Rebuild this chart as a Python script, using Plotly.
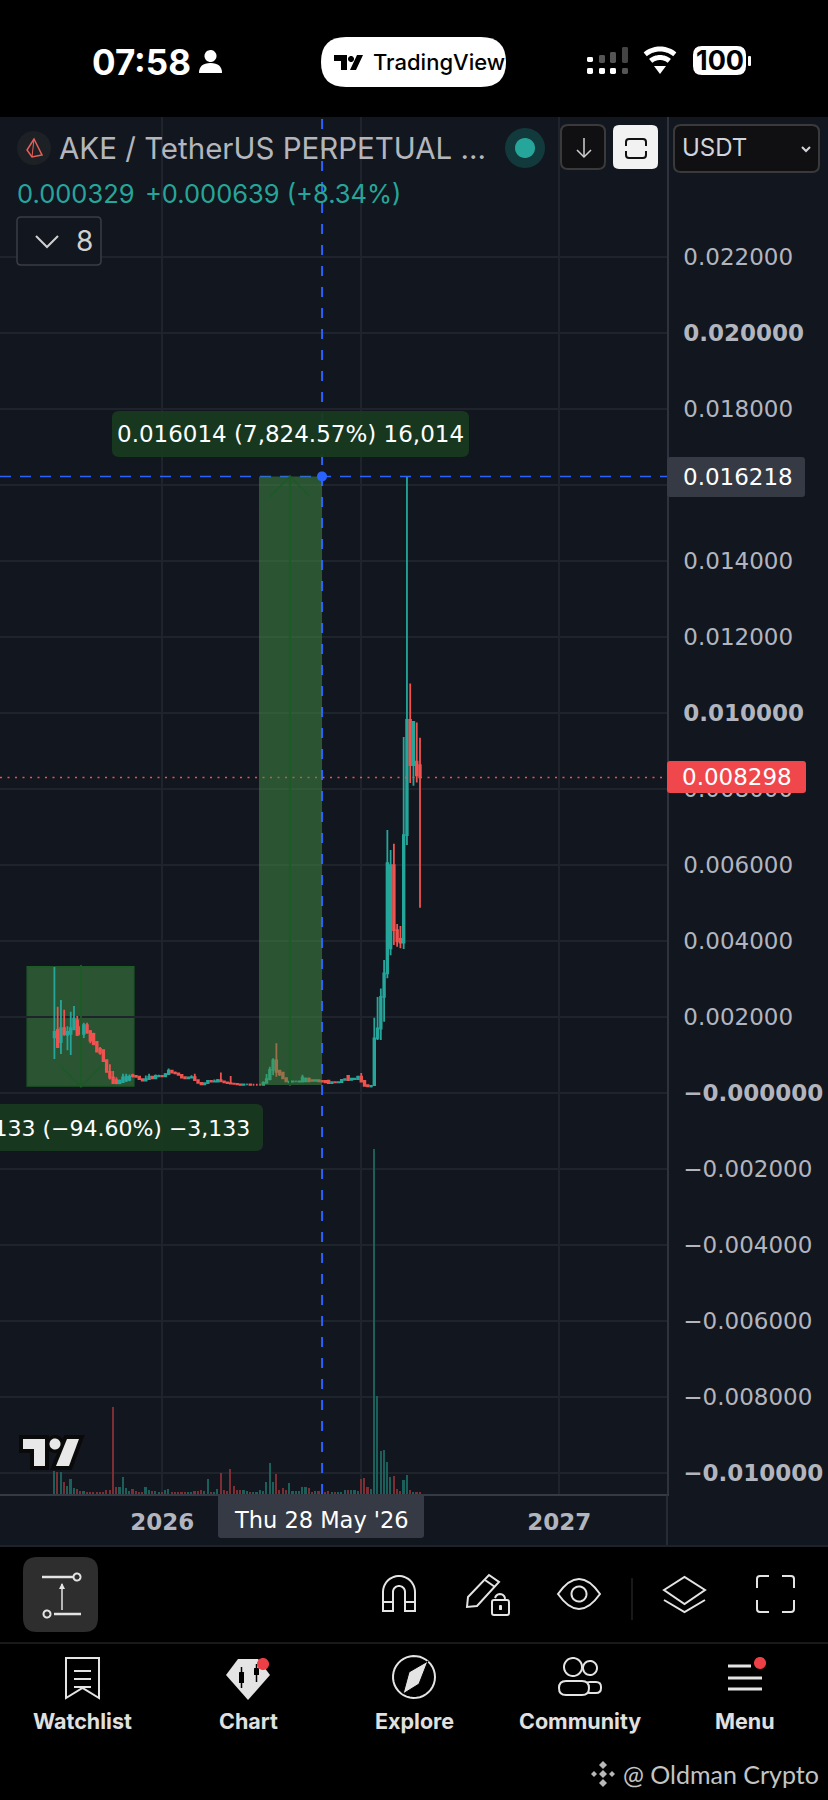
import numpy as np
import pandas as pd
import plotly.graph_objects as go

W, H = 828, 1800
FONT = "Inter"
AXIS_FONT = "DejaVu Sans"
PANEL = "#12161f"
GRID = "#1f232c"
TEAL = "#26a69a"
RED = "#ef5350"
BLUE = "#2962ff"

# 3 day candles
FIRST_CANDLE = "2025-09-24"
OPEN = [.00146, .00165, .00133, .00170, .00152, .00155, .00167, .00190, .00172, .00155,
        .00178, .00162, .00155, .00134, .00115, .00112, .00086, .00055, .00040, .00033,
        .00025, .00028, .00032, .00034, .00046, .00044, .00042, .00036, .00032, .00036,
        .00042, .00038, .00043, .00044, .00043, .00049, .00058, .00053, .00051, .00047,
        .00041, .00038, .00040, .00041, .00033, .00026, .00022, .00025, .00031, .00029,
        .00029, .00033, .00030, .00027, .00025, .00024, .00023, .00022, .00021, .00022,
        .00022, .00021, .00021, .00021, .00021, .00026, .00036, .00060, .00085, .00058,
        .00053, .00038, .00027, .00029, .00030, .00029, .00029, .00030, .00037, .00033,
        .00031, .00033, .00031, .00031, .00032, .00025, .00028, .00027, .00028, .00034,
        .00044, .00034, .00036, .00036, .00042, .00031, .00020, .00017, .00020, .00143,
        .00169, .00252, .00314, .00380, .00599, .00428, .00405, .00395, .00678, .00981,
        .00862, .00871, .00862]
HIGH = [.00331, .00226, .00244, .00218, .00175, .00213, .00228, .00202, .00176, .00184,
        .00184, .00165, .00158, .00134, .00120, .00112, .00086, .00075, .00057, .00041,
        .00035, .00050, .00050, .00048, .00050, .00046, .00043, .00037, .00045, .00050,
        .00044, .00048, .00047, .00046, .00052, .00064, .00058, .00056, .00053, .00049,
        .00043, .00042, .00046, .00050, .00034, .00028, .00027, .00033, .00033, .00035,
        .00036, .00053, .00032, .00029, .00044, .00026, .00024, .00023, .00024, .00023,
        .00023, .00022, .00022, .00023, .00030, .00049, .00068, .00091, .00130, .00060,
        .00053, .00040, .00030, .00032, .00031, .00032, .00047, .00040, .00040, .00034,
        .00034, .00034, .00032, .00032, .00032, .00029, .00029, .00030, .00035, .00037,
        .00045, .00038, .00038, .00044, .00052, .00033, .00021, .00019, .00197, .00252,
        .00274, .00349, .00691, .00639, .00655, .00444, .00439, .00936, .016218, .01077,
        .00976, .00974, .00934]
LOW = [.00089, .00118, .00102, .00150, .00112, .00099, .00165, .00149, .00150, .00144,
       .00155, .00130, .00125, .00108, .00100, .00083, .00055, .00035, .00025, .00022,
       .00022, .00026, .00028, .00030, .00040, .00040, .00034, .00030, .00031, .00034,
       .00036, .00037, .00041, .00042, .00042, .00047, .00052, .00050, .00046, .00039,
       .00037, .00037, .00039, .00032, .00025, .00021, .00021, .00024, .00028, .00027,
       .00028, .00029, .00026, .00024, .00023, .00022, .00021, .00020, .00020, .00020,
       .00020, .00020, .00020, .00020, .00021, .00025, .00033, .00046, .00042, .00044,
       .00036, .00028, .00025, .00027, .00028, .00027, .00028, .00030, .00029, .00030,
       .00030, .00029, .00028, .00026, .00023, .00024, .00026, .00026, .00027, .00032,
       .00032, .00033, .00034, .00035, .00028, .00018, .00017, .00014, .00018, .00139,
       .00139, .00187, .00301, .00362, .00389, .00384, .00380, .00378, .00652, .00815,
       .00808, .00816, .00487]
CLOSE = [.00160, .00120, .00170, .00154, .00160, .00170, .00195, .00152, .00155, .00178,
         .00158, .00137, .00128, .00108, .00105, .00083, .00055, .00040, .00025, .00025,
         .00032, .00040, .00042, .00042, .00044, .00042, .00036, .00032, .00036, .00042,
         .00038, .00044, .00044, .00043, .00049, .00058, .00053, .00051, .00047, .00040,
         .00038, .00040, .00041, .00033, .00026, .00022, .00025, .00031, .00029, .00030,
         .00033, .00030, .00027, .00025, .00024, .00023, .00022, .00021, .00022, .00022,
         .00021, .00021, .00021, .00021, .00026, .00036, .00060, .00085, .00055, .00048,
         .00038, .00030, .00029, .00030, .00030, .00030, .00040, .00037, .00030, .00031,
         .00033, .00030, .00029, .00027, .00025, .00028, .00027, .00028, .00034, .00036,
         .00033, .00037, .00037, .00042, .00029, .00018, .00017, .00018, .00143, .00169,
         .00252, .00314, .00604, .00599, .00428, .00398, .00395, .00678, .00981, .00862,
         .00976, .00835, .008298]
VOLUME = [68, 65, 66, 35, 25, 44, 18, 15, 8, 8, 5, 5, 5, 5, 5, 5, 13, 13, 260, 22,
          22, 50, 18, 8, 15, 8, 7, 7, 22, 13, 10, 10, 7, 5, 12, 15, 7, 5, 5, 5,
          5, 5, 5, 8, 10, 12, 8, 46, 6, 7, 16, 63, 13, 8, 75, 25, 12, 13, 12, 8,
          7, 6, 6, 12, 10, 35, 92, 37, 60, 13, 18, 12, 32, 10, 8, 8, 20, 22, 18, 5,
          10, 10, 10, 5, 10, 7, 6, 6, 6, 12, 12, 12, 12, 10, 45, 48, 22, 15, 1035, 293,
          130, 133, 97, 50, 55, 15, 10, 42, 58, 13, 7, 7, 7]

PRICE_TICKS = [-.010, -.008, -.006, -.004, -.002, 0, .002, .004, .006, .008, .010,
               .012, .014, .016, .018, .020, .022]
PRICE_LABELS = ["<b>−0.010000</b>", "−0.008000", "−0.006000", "−0.004000", "−0.002000",
                "<b>−0.000000</b>", "0.002000", "0.004000", "0.006000", "0.008000",
                "<b>0.010000</b>", "0.012000", "0.014000", "0.016000", "0.018000",
                "<b>0.020000</b>", "0.022000"]
TIME_TICKS = ["2026-01-01", "2026-07-03", "2027-01-01"]
TIME_LABELS = ["<b>2026</b>", "", "<b>2027</b>"]

LAST_PRICE = 0.008298
CROSS_PRICE = 0.016218
CROSS_DATE = "2026-05-28"
DROP_BOX = dict(x0="2025-08-30", x1="2025-12-06", y0=0.000179, y1=0.003312)
RISE_BOX = dict(x0="2026-03-31", x1=CROSS_DATE, y0=0.000204, y1=CROSS_PRICE)

dates = pd.date_range(FIRST_CANDLE, periods=len(OPEN), freq="3D")
vol_colors = ["#1a5f59" if c >= o else "#7c2e33" for o, c in zip(OPEN, CLOSE)]

shapes = []
notes = []


def pt(x, y):
    return f"{x / W:.5f},{1 - y / H:.5f}"


def poly(points, fill=None, color=None, width=2, close=False, layer="above"):
    d = "M" + " L".join(pt(x, y) for x, y in points) + (" Z" if close else "")
    raw(d, fill, color, width, layer)


def raw(d, fill=None, color=None, width=2, layer="above"):
    shapes.append(dict(type="path", path=d, xref="paper", yref="paper", layer=layer,
                       fillcolor=fill or "rgba(0,0,0,0)",
                       line=dict(color=color or "rgba(0,0,0,0)", width=width if color else 0)))


def rrect(x0, y0, x1, y1, r, fill=None, color=None, width=1.5, layer="above"):
    d = (f"M{pt(x0 + r, y0)} L{pt(x1 - r, y0)} Q{pt(x1, y0)} {pt(x1, y0 + r)} "
         f"L{pt(x1, y1 - r)} Q{pt(x1, y1)} {pt(x1 - r, y1)} L{pt(x0 + r, y1)} "
         f"Q{pt(x0, y1)} {pt(x0, y1 - r)} L{pt(x0, y0 + r)} Q{pt(x0, y0)} {pt(x0 + r, y0)} Z")
    raw(d, fill, color, width, layer)


def arc(cx, cy, r, a0, a1, n=24):
    a = np.radians(np.linspace(a0, a1, n))
    return list(zip(cx + r * np.cos(a), cy - r * np.sin(a)))


def dot(cx, cy, r, fill=None, color=None, width=2):
    poly(arc(cx, cy, r, 0, 360, 40), fill, color, width, close=True)


def text(x, y, s, size, color="#ffffff", anchor="left", bold=False, family=FONT, weight=None):
    font = dict(family=family, size=size, color=color)
    if weight:
        font["weight"] = weight
    notes.append(dict(x=x / W, y=1 - y / H, xref="paper", yref="paper", showarrow=False,
                      text=f"<b>{s}</b>" if bold else s, xanchor=anchor, yanchor="middle",
                      font=font))


# panel
rrect(0, 117, W, 1546, 0, fill=PANEL, layer="below")

# measure box behind the candles
shapes.append(dict(type="rect", xref="x", yref="y", layer="below", **DROP_BOX,
                   fillcolor="rgba(66,146,70,0.5)", line=dict(color="#1c5a26", width=1.5)))

# crosshair and last price
shapes.append(dict(type="line", xref="x", yref="paper", x0=CROSS_DATE, x1=CROSS_DATE,
                   y0=1 - 1494 / H, y1=1 - 117 / H, line=dict(color=BLUE, width=2, dash="10px,11px")))
shapes.append(dict(type="line", xref="paper", yref="y", x0=0, x1=667 / W, y0=CROSS_PRICE,
                   y1=CROSS_PRICE, line=dict(color=BLUE, width=1.5, dash="11px,9px")))
shapes.append(dict(type="line", xref="paper", yref="y", x0=0, x1=667 / W, y0=LAST_PRICE,
                   y1=LAST_PRICE, line=dict(color=RED, width=1.5, dash="2px,5.5px")))

shapes.append(dict(type="rect", xref="x", yref="y", layer="above", **RISE_BOX,
                   fillcolor="rgba(66,146,70,0.5)", line=dict(width=0)))

# arrows in the measure boxes
ARROW = "#1c5a26"
poly([(81, 965), (81, 1087)], color=ARROW, width=2)
poly([(61, 1066), (81, 1087), (101, 1066)], color=ARROW, width=1.5)
poly([(290, 476), (290, 1086)], color=ARROW, width=2)
poly([(270, 497), (290, 476), (310, 497)], color=ARROW, width=1.5)
dot(322, 476.4, 5, fill=BLUE)

# measure labels
rrect(112, 411, 469, 457, 7, fill="rgba(24,58,32,0.95)")
text(290.5, 434, "0.016014 (7,824.57%) 16,014", 23, anchor="center", family=AXIS_FONT)
rrect(-110, 1104, 263, 1151, 7, fill="rgba(24,58,32,0.95)")
text(251.5, 1128, "−0.003133 (−94.60%) −3,133", 22, anchor="right", family=AXIS_FONT)

# price axis tags
poly([(667, 1494), (667, 1546)], color="#2f333e", width=1.5)
rrect(667, 457, 805, 497, 3, fill="#363a45")
text(738, 476.5, "0.016218", 23, anchor="center", family=AXIS_FONT)
rrect(667, 761, 806, 793, 3, fill="#f0474c")
text(737, 777, "0.008298", 23, anchor="center", family=AXIS_FONT)
rrect(218, 1494, 424, 1538, 3, fill="#363a45")
text(321, 1520, "Thu 28 May '26", 22.5, anchor="center", family=AXIS_FONT)

# watermark logo
LOGO_T = [(23, 1439), (45, 1439), (45, 1466), (34, 1466), (34, 1449), (23, 1449)]
LOGO_S = [(56, 1466), (69, 1466), (79, 1439), (67, 1439)]
poly(LOGO_T, fill="#0a0a0a", color="#0a0a0a", width=8, close=True)
poly(LOGO_S, fill="#0a0a0a", color="#0a0a0a", width=8, close=True)
dot(55, 1444, 9, fill="#0a0a0a")
poly(LOGO_T, fill="#e8e8e8", close=True)
poly(LOGO_S, fill="#e8e8e8", close=True)
dot(55, 1444, 5.5, fill="#e8e8e8")

# status bar
rrect(0, 0, W, 117, 0, fill="#000000", layer="below")
text(90, 62, "07:58", 35, bold=True)
dot(210.5, 56, 6, fill="#ffffff")
raw(f"M{pt(199, 73)} Q{pt(199, 63)} {pt(210.5, 63)} Q{pt(222, 63)} {pt(222, 73)} Z", fill="#ffffff")
rrect(321, 37, 506, 87, 25, fill="#ffffff")
poly([(334, 55), (347, 55), (347, 70), (341, 70), (341, 61), (334, 61)], fill="#000000", close=True)
dot(351, 59, 3, fill="#000000")
poly([(350, 70), (356, 70), (363, 55), (357, 55)], fill="#000000", close=True)
text(371, 62, "TradingView", 22, color="#000000", weight=500)
for x, rows in [(590, [(57, 62, "#fff"), (68, 74, "#fff")]),
                (602, [(55, 63, "#555"), (68, 74, "#fff")]),
                (613, [(52, 63, "#555"), (68, 74, "#fff")]),
                (625, [(47, 63, "#444"), (68, 74, "#555")])]:
    for y0, y1, c in rows:
        rrect(x - 3, y0, x + 3, y1, 1.5, fill=c)
for r in [23, 14.5]:
    poly(arc(660, 72, r, 50, 130), color="#ffffff", width=5)
poly([(660, 74), (654, 66), (666, 66)], fill="#ffffff", close=True)
rrect(693, 46, 746, 75, 9, fill="#ffffff")
rrect(748, 56, 751, 66, 1, fill="#ffffff")
text(719.5, 61, "100", 27, color="#000000", anchor="center", bold=True)

# chart header
dot(34, 148, 17, fill="#1d2024")
poly([(34, 139), (42, 155), (32, 157), (27, 150)], color="#e8605a", width=1.5, close=True)
poly([(34, 139), (32, 157)], color="#e8605a", width=1)
text(57, 148, "AKE / TetherUS PERPETUAL ...", 29.5, color="#b4b6bc")
dot(525, 148, 20, fill="#123a3c")
dot(525, 148, 10, fill=TEAL)
rrect(561, 125, 605, 169, 7, fill="#101012", color="#3a3a3a", width=2)
poly([(584, 138), (584, 157)], color="#d0d0d0", width=1.5)
poly([(577, 150), (584, 157), (591, 150)], color="#d0d0d0", width=1.5)
rrect(613, 125, 658, 169, 6, fill="#f2f2f2")
raw(f"M{pt(626, 146)} L{pt(626, 142)} Q{pt(626, 139)} {pt(629, 139)} L{pt(643, 139)} "
    f"Q{pt(646, 139)} {pt(646, 142)} L{pt(646, 146)}", color="#111111", width=2)
raw(f"M{pt(626, 151)} L{pt(626, 155)} Q{pt(626, 158)} {pt(629, 158)} L{pt(643, 158)} "
    f"Q{pt(646, 158)} {pt(646, 155)} L{pt(646, 151)}", color="#111111", width=2)
rrect(674, 125, 819, 172, 7, fill="#101012", color="#3a3a3a", width=2)
text(680, 148, "USDT", 24, color="#d1d4dc")
poly([(802, 147), (806, 151), (810, 147)], color="#d1d4dc", width=2)
text(15, 193, "0.000329", 25.5, color=TEAL)
text(143, 193, "+0.000639 (+8.34%)", 25.5, color=TEAL)
rrect(17, 217, 101, 265, 4, fill=PANEL, color="#3a3d45", width=1.5)
poly([(36, 236), (47, 247), (58, 236)], color="#d0d0d0", width=2)
text(84, 241, "8", 28, color="#d0d0d0", anchor="center")

# tool row
ICON = "#e4e4e4"
poly([(0, 1546), (W, 1546)], color="#20222a", width=2)
rrect(0, 1547, W, 1800, 0, fill="#000000")
rrect(23, 1557, 98, 1632, 14, fill="#2e2e2e")
poly([(42, 1577), (73, 1577)], color=ICON, width=2.5)
dot(77, 1577, 3.5, color=ICON)
poly([(54, 1614), (81, 1614)], color=ICON, width=2.5)
dot(47, 1614, 3.5, color=ICON)
poly([(62, 1584), (62, 1610)], color=ICON, width=1.5)
poly([(59, 1589), (62, 1583), (65, 1589)], fill=ICON, close=True)

outer = arc(399, 1592, 16, 180, 0)
inner = arc(399, 1592, 6, 0, 180)
poly([(383, 1611)] + outer + [(415, 1611), (405, 1611)] + inner + [(393, 1611)], color=ICON, width=2, close=True)
poly([(383, 1602), (393, 1602)], color=ICON)
poly([(405, 1602), (415, 1602)], color=ICON)
poly([(489, 1575), (499, 1582), (477, 1606), (467, 1607), (468, 1597)], color=ICON, close=True)
poly([(485, 1580), (495, 1587)], color=ICON)
rrect(492, 1600, 509, 1615, 2, fill="#000000", color=ICON, width=2)
poly(arc(500, 1599, 5, 0, 170, 10), color=ICON)
rrect(499, 1605, 502, 1610, 0.5, fill=ICON)
raw(f"M{pt(558, 1594)} Q{pt(579, 1564)} {pt(600, 1594)} Q{pt(579, 1624)} {pt(558, 1594)} Z", color=ICON, width=2)
dot(579, 1594, 7.5, color=ICON)
poly([(632, 1578), (632, 1620)], color="#222222", width=1.5)
poly([(664, 1590), (684.5, 1577), (705, 1590), (684.5, 1604)], color=ICON, close=True)
poly([(664, 1600), (684.5, 1612), (705, 1600)], color=ICON)
for x0, x1, y0, y1 in [(757, 769, 1588, 1576), (794, 782, 1588, 1576),
                       (757, 769, 1600, 1612), (794, 782, 1600, 1612)]:
    raw(f"M{pt(x0, y0)} L{pt(x0, y1 + (3 if y1 < y0 else -3))} Q{pt(x0, y1)} "
        f"{pt(x0 + (3 if x1 > x0 else -3), y1)} L{pt(x1, y1)}", color=ICON, width=2)
poly([(0, 1643), (W, 1643)], color="#222222", width=1.5)

# tab bar
poly([(66, 1658), (99, 1658), (99, 1698), (82.5, 1688), (66, 1698)], color=ICON, close=True)
for y in [1671, 1679, 1687]:
    poly([(74, y), (91, y)], color=ICON)
poly([(226, 1675), (238, 1659), (258, 1659), (270, 1675), (248, 1700)], fill=ICON, close=True)
rrect(239, 1672, 244, 1683, 0.5, fill="#000000")
poly([(241.5, 1667), (241.5, 1688)], color="#000000", width=1.5)
rrect(254, 1668, 259, 1675, 0.5, fill="#000000")
poly([(256.5, 1664), (256.5, 1682)], color="#000000", width=1.5)
dot(263, 1664, 6, fill="#ef3f46")
dot(414, 1677, 21, color=ICON)
poly([(428, 1661), (419, 1684), (403, 1694), (409, 1672)], fill=ICON, color="#000000", width=1, close=True)
dot(573, 1667, 9, color=ICON)
dot(590, 1668, 7, color=ICON)
rrect(585, 1682, 601, 1693, 5, fill="#000000", color=ICON, width=2)
rrect(559, 1681, 589, 1695, 7, fill="#000000", color=ICON, width=2)
poly([(728, 1666), (751, 1666)], color=ICON, width=3)
poly([(728, 1678), (762, 1678)], color=ICON, width=3)
poly([(728, 1689), (762, 1689)], color=ICON, width=3)
dot(760, 1663, 6, fill="#ef3f46")
for x, s in [(82, "Watchlist"), (248, "Chart"), (414, "Explore"), (580, "Community"), (745, "Menu")]:
    text(x, 1721, s, 21.5, color="#e0e0e0", anchor="center", bold=True)

# source mark
for cx, cy, r in [(603, 1774, 4), (594, 1774, 3), (612, 1774, 3), (603, 1765, 4), (603, 1783, 4)]:
    poly([(cx - r, cy), (cx, cy - r), (cx + r, cy), (cx, cy + r)], fill="#b8b8b8", close=True)
text(621, 1774, "@ Oldman Crypto", 25, color="#c4c4c4", family="Lato")

fig = go.Figure()
fig.add_trace(go.Bar(x=dates, y=VOLUME, yaxis="y2", width=1.3e8, marker_color=vol_colors,
                     marker_line_width=0, showlegend=False, hoverinfo="skip"))
fig.add_trace(go.Candlestick(x=dates, open=OPEN, high=HIGH, low=LOW, close=CLOSE, showlegend=False,
                             increasing=dict(line=dict(color=TEAL, width=1.8), fillcolor=TEAL),
                             decreasing=dict(line=dict(color=RED, width=1.8), fillcolor=RED),
                             whiskerwidth=0))

fig.update_layout(
    width=W, height=H,
    margin=dict(l=0, r=0, t=0, b=0),
    paper_bgcolor="#000000",
    plot_bgcolor=PANEL,
    showlegend=False,
    bargap=0,
    shapes=shapes,
    annotations=notes,
    xaxis=dict(domain=[0, 667 / W], range=["2025-08-05", "2027-04-10"], rangeslider_visible=False,
               tickvals=TIME_TICKS, ticktext=TIME_LABELS, showgrid=True, gridcolor=GRID, gridwidth=1.5,
               showline=True, linecolor="#363a45", linewidth=2, ticks="", ticklabelstandoff=6,
               tickfont=dict(family=AXIS_FONT, size=23, color="#b2b5be"), zeroline=False),
    yaxis=dict(domain=[1 - 1494 / H, 1 - 117 / H], range=[-0.01056, 0.025676], side="right",
               tickvals=PRICE_TICKS, ticktext=PRICE_LABELS, showgrid=True, gridcolor=GRID, gridwidth=1.5,
               showline=True, linecolor="#2f333e", linewidth=1.5, ticks="", ticklabelstandoff=10,
               tickfont=dict(family=AXIS_FONT, size=23, color="#b2b5be"), zeroline=False),
    yaxis2=dict(domain=[1 - 1494 / H, 1 - 117 / H], range=[0, 4131], overlaying="y", side="left",
                visible=False),
)

fig.write_html("out.html", config=dict(displayModeBar=False),
               post_script="document.body.style.margin='0';document.body.style.background='#000';")
